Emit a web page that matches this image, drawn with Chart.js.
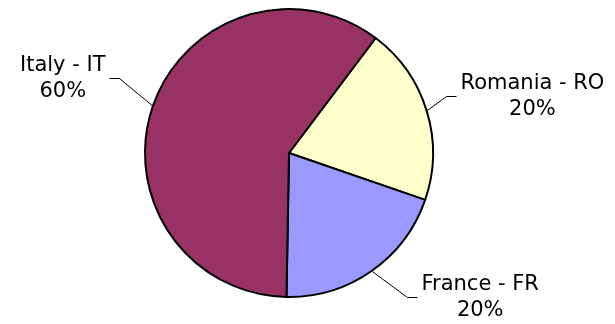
<!DOCTYPE html>
<html>
<head>
<meta charset="utf-8">
<script src="https://cdn.jsdelivr.net/npm/chart.js@4/dist/chart.umd.min.js"></script>
<style>
  html, body { margin: 0; padding: 0; background: #ffffff; }
  #wrap { width: 615px; height: 324px; position: relative; }
</style>
</head>
<body>
<div id="wrap"><canvas id="chart" width="615" height="324"></canvas></div>
<script>
// Country shares
const categories = ['Romania - RO', 'France - FR', 'Italy - IT'];
const shares = [20, 20, 60];
const sliceColors = ['#FFFFCC', '#9999FF', '#993366'];

// Leader line layout per slice: elbow offset from the rim point, stub direction
const leaderLayout = [
  { dx: 19, dy: -15, side: 1 },
  { dx: 35, dy: 26, side: 1 },
  { dx: -34, dy: -28, side: -1 }
];

const FONT = '21px "DejaVu Sans", Verdana, sans-serif';

const outsideLabels = {
  id: 'outsideLabels',
  afterDatasetsDraw(chart) {
    const ctx = chart.ctx;
    const meta = chart.getDatasetMeta(0);
    const total = shares.reduce((a, b) => a + b, 0);
    ctx.save();
    ctx.font = FONT;
    ctx.fillStyle = '#000000';
    ctx.textBaseline = 'middle';
    ctx.textAlign = 'center';
    meta.data.forEach((arc, i) => {
      const p = arc.getProps(['x', 'y', 'startAngle', 'endAngle', 'outerRadius'], true);
      const mid = (p.startAngle + p.endAngle) / 2;
      const ax = p.x + Math.cos(mid) * p.outerRadius;
      const ay = p.y + Math.sin(mid) * p.outerRadius;
      const L = leaderLayout[i];
      // snap the elbow to the pixel grid so the stub stays crisp
      const ex = Math.round(ax + L.dx) + 0.5, ey = Math.round(ay + L.dy) + 0.5;
      const sx = ex + L.side * 10;
      ctx.strokeStyle = '#000000';
      ctx.lineWidth = 1;
      ctx.beginPath();
      ctx.moveTo(ax, ay);
      ctx.lineTo(ex, ey);
      ctx.lineTo(sx, ey);
      ctx.stroke();
      const line1 = categories[i];
      const line2 = Math.round(shares[i] / total * 100) + '%';
      const w = Math.max(ctx.measureText(line1).width, ctx.measureText(line2).width);
      const cx = sx + L.side * (4 + w / 2);
      ctx.fillText(line1, cx, ey - 13);
      ctx.fillText(line2, cx, ey + 13);
    });
    ctx.restore();
  }
};

new Chart(document.getElementById('chart'), {
  type: 'pie',
  data: {
    labels: categories,
    datasets: [{
      data: shares,
      backgroundColor: sliceColors,
      borderColor: '#000000',
      borderWidth: 2
    }]
  },
  options: {
    responsive: false,
    animation: false,
    rotation: 37,
    layout: { padding: { left: 144, right: 181, top: 8, bottom: 26 } },
    plugins: {
      legend: { display: false },
      tooltip: { enabled: false }
    }
  },
  plugins: [outsideLabels]
});
</script>
</body>
</html>
